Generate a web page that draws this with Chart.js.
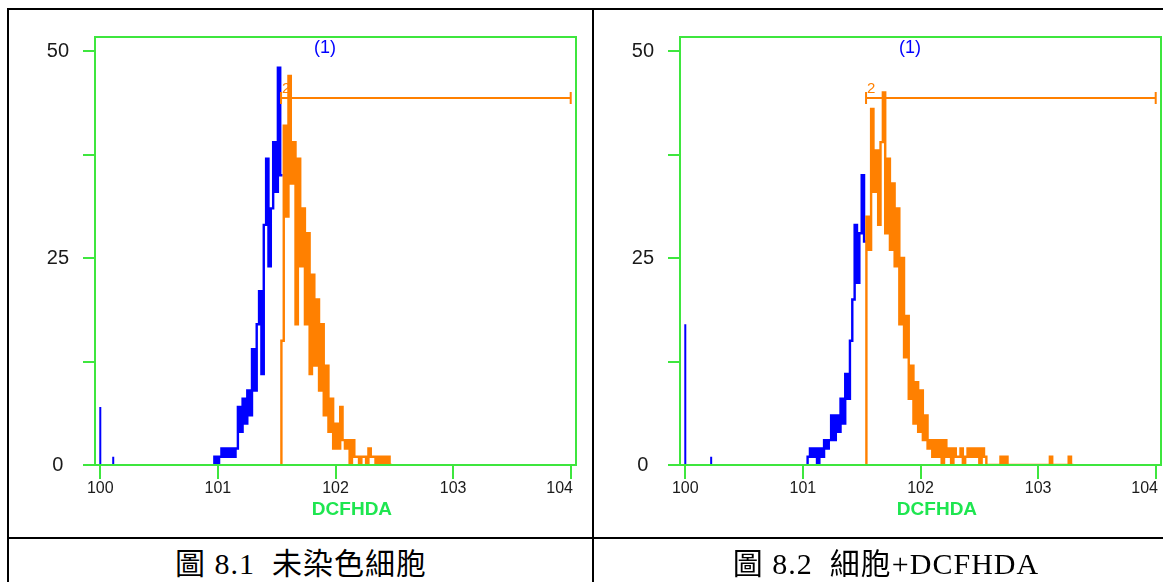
<!DOCTYPE html>
<html>
<head>
<meta charset="utf-8">
<script src="https://cdn.jsdelivr.net/npm/chart.js@4.4.1/dist/chart.umd.min.js"></script>
<style>
  html, body { margin: 0; padding: 0; background: #fff; width: 1163px; height: 582px; overflow: hidden; }
  .line { position: absolute; background: #000; }
  canvas { position: absolute; }
  .caption {
    position: absolute; top: 547px; height: 34px; line-height: 34px;
    text-align: center; white-space: pre; color: #000;
    font-family: "Liberation Serif", "Noto Sans CJK TC", serif; font-size: 30px; letter-spacing: 1px;
  }
</style>
</head>
<body>
<div class="line" style="left:7px; top:8px; width:1160px; height:2px"></div>
<div class="line" style="left:7px; top:8px; width:2px; height:580px"></div>
<div class="line" style="left:592px; top:8px; width:2px; height:580px"></div>
<div class="line" style="left:7px; top:537px; width:1160px; height:2px"></div>

<canvas id="chartLeft" width="600" height="526" style="left:9px; top:11px"></canvas>
<canvas id="chartRight" width="600" height="526" style="left:595px; top:11px"></canvas>

<div class="caption" style="left:7px; width:588px">圖 8.1  未染色細胞</div>
<div class="caption" style="left:593px; width:586px">圖 8.2  細胞+DCFHDA</div>

<script>
// eixo x em decadas (0..4 = 10^0..10^4), bins de 0.02 decada
const xTicks = [0, 1, 2, 3, 4];
const xTickLabels = ['100', '101', '102', '103', '104'];
const yTicks = [0, 12.5, 25, 37.5, 50];
const yTickLabels = ['0', '', '25', '', '50'];
const axisTitle = 'DCFHDA';
const regionLabel = '(1)';
const gateLabel = '2';
const binWidth = 0.02;

// 圖 8.1 - celulas sem corante
const leftBlueStart = 0.97;
const leftBlue = [1, 0, 1, 2, 1, 2, 1, 2, 1, 2, 7, 4, 8, 5, 9, 6, 14, 9, 17, 21,
  11, 29, 37, 24, 31, 39, 33, 48, 35];
const leftOrangeStart = 1.54;
const leftOrange = [15, 41, 30, 47, 34, 39, 17, 37, 24, 31, 17, 28, 11, 23, 12, 20, 9, 17, 6, 12,
  4, 8, 2, 5, 2, 7, 3, 2, 3, 0, 3, 1, 1, 0, 1, 1, 0, 2, 1, 1,
  0, 1, 0, 1, 0, 1, 0];
const leftSpikeX = [0, 0.11];
const leftSpikeY = [7, 1];
const leftGate = [1.537, 4.0];
const leftGateLevel = 44.3;

// 圖 8.2 - celulas + DCFHDA
const rightBlueStart = 1.04;
const rightBlue = [1, 2, 1, 2, 0, 2, 1, 3, 2, 3, 6, 3, 6, 4, 8, 5, 11, 8, 15, 20,
  29, 22, 28, 35, 27];
const rightOrangeStart = 1.54;
const rightOrange = [30, 26, 43, 33, 38, 29, 39, 45, 28, 37, 26, 34, 24, 31, 17, 25, 13, 18, 8, 12,
  5, 10, 4, 9, 3, 6, 2, 3, 1, 3, 1, 3, 0, 3, 1, 2, 0, 2, 1, 1,
  2, 0, 1, 2, 1, 2, 1, 2, 0, 2, 1, 0, 0, 0, 0, 0, 0, 1, 0, 1,
  0, 0, 0, 0, 0, 0, 0, 0, 0, 0, 0, 0, 0, 0, 0, 0, 0, 0, 1, 0,
  0, 0, 0, 0, 0, 0, 1, 0];
const rightSpikeX = [0, 0.22];
const rightSpikeY = [17, 1];
const rightGate = [1.537, 4.0];
const rightGateLevel = 44.3;

const BLUE = '#0000ff';
const ORANGE = '#ff8000';
const GREEN = '#3ee63e';
const TITLE_GREEN = '#1ee650';
const TEXT = '#1a1a1a';
const SANS = '"Liberation Sans", Arial, sans-serif';

// contorno em degraus do histograma, partindo da linha de base
function stepPoints(start, counts, dropAtEnd) {
  const pts = [{ x: start, y: 0 }];
  counts.forEach((c, i) => pts.push({ x: start + i * binWidth, y: c }));
  const end = start + counts.length * binWidth;
  pts.push({ x: end, y: counts[counts.length - 1] });
  if (dropAtEnd) pts.push({ x: end, y: 0 });
  return pts;
}

// canais isolados (picos finos)
function spikePoints(xs, ys) {
  const pts = [];
  xs.forEach((v, i) => pts.push({ x: v, y: 0 }, { x: v, y: ys[i] }, { x: v, y: null }));
  return pts;
}

const extras = {
  id: 'extras',
  afterDatasetsDraw(chart, args, opts) {
    const { ctx, chartArea: a, scales: { x, y } } = chart;
    ctx.save();
    ctx.strokeStyle = GREEN;
    ctx.lineWidth = 2;
    ctx.strokeRect(a.left, a.top, a.right - a.left, a.bottom - a.top);

    // marcador da regiao 2
    const x1 = x.getPixelForValue(opts.gate[0]);
    const x2 = x.getPixelForValue(opts.gate[1]);
    const yg = Math.round(y.getPixelForValue(opts.level));
    ctx.strokeStyle = ORANGE;
    ctx.lineWidth = 2;
    ctx.beginPath();
    ctx.moveTo(x1, yg); ctx.lineTo(x2, yg);
    ctx.moveTo(x1, yg - 6); ctx.lineTo(x1, yg + 6);
    ctx.moveTo(x2, yg - 6); ctx.lineTo(x2, yg + 6);
    ctx.stroke();
    ctx.fillStyle = ORANGE;
    ctx.font = '15px ' + SANS;
    ctx.textAlign = 'left';
    ctx.textBaseline = 'alphabetic';
    ctx.fillText(gateLabel, x1 + 1, yg - 5);

    ctx.textAlign = 'center';
    ctx.textBaseline = 'middle';
    ctx.fillStyle = BLUE;
    ctx.font = '18px ' + SANS;
    ctx.fillText(regionLabel, x.getPixelForValue(1.91), a.top + 11);

    ctx.fillStyle = TITLE_GREEN;
    ctx.font = 'bold 19px ' + SANS;
    ctx.fillText(axisTitle, x.getPixelForValue(2.14), a.bottom + 45);
    ctx.restore();
  }
};

function makeChart(id, yWidth, blueStart, blue, orangeStart, orange, spikeX, spikeY, gate, level) {
  return new Chart(document.getElementById(id), {
    type: 'line',
    data: {
      datasets: [
        { data: stepPoints(orangeStart, orange, true), borderColor: ORANGE, borderWidth: 2.4, stepped: true, pointRadius: 0 },
        { data: stepPoints(blueStart, blue, false), borderColor: BLUE, borderWidth: 2.4, stepped: true, pointRadius: 0 },
        { data: spikePoints(spikeX, spikeY), borderColor: BLUE, borderWidth: 2, pointRadius: 0, spanGaps: false }
      ]
    },
    options: {
      responsive: false,
      animation: false,
      events: [],
      layout: { padding: { left: 0, top: 25, right: 600 - yWidth - 481, bottom: 0 } },
      plugins: {
        legend: { display: false },
        tooltip: { enabled: false },
        extras: { gate: gate, level: level }
      },
      scales: {
        x: {
          type: 'linear',
          min: -0.045,
          max: 4.045,
          afterBuildTicks: s => { s.ticks = xTicks.map(v => ({ value: v })); },
          afterFit: s => { s.height = 72; },
          border: { display: false },
          grid: { drawOnChartArea: false, drawTicks: true, tickLength: 14, color: GREEN, lineWidth: 2 },
          ticks: {
            autoSkip: false, maxRotation: 0, padding: 0, color: TEXT,
            font: { family: SANS, size: 16 },
            // o ultimo rotulo fica encostado na moldura
            callback: (v, i) => i === xTickLabels.length - 1 ? xTickLabels[i] + '     ' : xTickLabels[i]
          }
        },
        y: {
          min: 0,
          max: 51.7,
          afterBuildTicks: s => { s.ticks = yTicks.map(v => ({ value: v })); },
          afterFit: s => { s.width = yWidth; },
          border: { display: false },
          grid: { drawOnChartArea: false, drawTicks: true, tickLength: 12, color: GREEN, lineWidth: 2 },
          ticks: {
            autoSkip: false, padding: 14, crossAlign: 'center', color: TEXT,
            font: { family: SANS, size: 20 },
            callback: (v, i) => yTickLabels[i]
          }
        }
      }
    },
    plugins: [extras]
  });
}

makeChart('chartLeft', 86, leftBlueStart, leftBlue, leftOrangeStart, leftOrange,
  leftSpikeX, leftSpikeY, leftGate, leftGateLevel);
makeChart('chartRight', 85, rightBlueStart, rightBlue, rightOrangeStart, rightOrange,
  rightSpikeX, rightSpikeY, rightGate, rightGateLevel);
</script>
</body>
</html>
